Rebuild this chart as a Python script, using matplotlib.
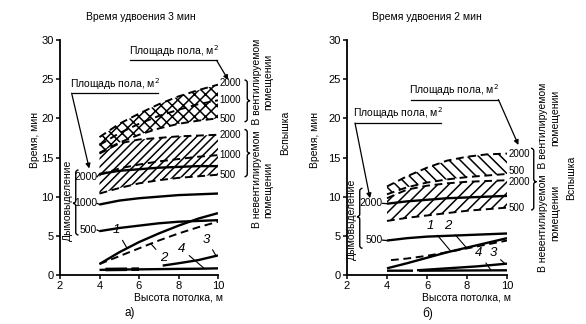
import numpy as np
import matplotlib
matplotlib.use("Agg")
import matplotlib.pyplot as plt
from matplotlib.path import Path
from matplotlib.patches import PathPatch

plt.rcParams['font.family'] = ['Liberation Sans', 'DejaVu Sans']
plt.rcParams['hatch.linewidth'] = 1.1

# ---------------- data ----------------
height = [4, 5, 6, 7, 8, 9, 10]
xticks = [2, 4, 6, 8, 10]
yticks = [0, 5, 10, 15, 20, 25, 30]

# panel a) doubling time 3 min
a_vent_2000 = [17.6, 19.3, 20.6, 21.8, 22.8, 23.6, 24.3]
a_vent_1000 = [16.6, 18.1, 19.3, 20.3, 21.1, 21.8, 22.3]
a_vent_500 = [15.6, 16.9, 17.9, 18.7, 19.3, 19.7, 20.0]
a_nvent_2000 = [15.5, 16.8, 17.3, 17.5, 17.7, 17.8, 17.9]
a_nvent_1000 = [12.8, 13.6, 14.1, 14.5, 14.8, 15.1, 15.3]
a_nvent_500 = [10.4, 11.1, 11.7, 12.1, 12.4, 12.6, 12.8]
a_smoke_2000 = [12.9, 13.3, 13.5, 13.7, 13.8, 13.9, 13.9]
a_smoke_1000 = [9.0, 9.5, 9.8, 10.0, 10.2, 10.3, 10.4]
a_smoke_500 = [5.6, 6.0, 6.3, 6.6, 6.8, 6.9, 7.0]
a_curve1 = [1.4, 2.9, 4.2, 5.3, 6.3, 7.2, 7.9]
a_curve2 = [1.4, 2.4, 3.4, 4.4, 5.3, 6.1, 6.8]
a_curve3_x = [7.2, 8, 9, 10]
a_curve3 = [1.2, 1.5, 1.9, 2.5]
a_curve4 = [0.65, 0.7, 0.72, 0.75, 0.78, 0.8, 0.85]
a_curve4b_x = [4.3, 6.0]
a_curve4b = [0.7, 0.75]

# panel b) doubling time 2 min
b_vent_2000 = [11.3, 12.6, 13.7, 14.6, 15.1, 15.4, 15.5]
b_vent_500 = [10.3, 11.2, 11.8, 12.2, 12.5, 12.7, 12.9]
b_nvent_2000 = [9.8, 10.9, 11.4, 11.7, 11.9, 12.0, 12.1]
b_nvent_500 = [6.9, 7.3, 7.6, 7.9, 8.2, 8.4, 8.6]
b_smoke_2000 = [9.1, 9.4, 9.6, 9.8, 9.9, 10.0, 10.1]
b_smoke_500 = [4.4, 4.7, 4.9, 5.0, 5.1, 5.2, 5.3]
b_curve1 = [0.85, 1.5, 2.2, 2.9, 3.5, 4.1, 4.7]
b_curve2_x = [4.2, 5, 6, 7, 8, 9, 10]
b_curve2 = [1.9, 2.1, 2.45, 2.9, 3.4, 3.9, 4.4]
b_curve3_x = [5.5, 7, 8.5, 10]
b_curve3 = [0.6, 0.85, 1.1, 1.45]
b_curve4_x = [4.0, 5.3, np.nan, 5.6, 10.0]
b_curve4 = [0.55, 0.55, np.nan, 0.55, 0.6]

area_label = "Площадь пола, м$^2$"

W, H = 586, 324
fig = plt.figure(figsize=(W / 100, H / 100), dpi=100)

def fx(px):
    return px / W

def fy(py):
    return 1 - py / H

def ftext(px, py, s, **kw):
    fig.text(fx(px), fy(py), s, **kw)

def brace(px, ytop, ybot, ymid, w, s):
    pts = [(px, ytop), (px + s * w / 2, ytop), (px + s * w / 2, ytop + w / 2),
           (px + s * w / 2, ymid - w / 2), (px + s * w / 2, ymid), (px + s * w, ymid),
           (px + s * w / 2, ymid), (px + s * w / 2, ymid + w / 2),
           (px + s * w / 2, ybot - w / 2), (px + s * w / 2, ybot), (px, ybot)]
    codes = [Path.MOVETO, Path.CURVE3, Path.CURVE3, Path.LINETO, Path.CURVE3, Path.CURVE3,
             Path.CURVE3, Path.CURVE3, Path.LINETO, Path.CURVE3, Path.CURVE3]
    verts = [(fx(a), fy(b)) for a, b in pts]
    fig.patches.append(PathPatch(Path(verts, codes), transform=fig.transFigure,
                                 fill=False, lw=1.0, color='black'))

DASH = (0, (4, 2.4))
SOL = dict(color='black', lw=1.7, solid_capstyle='butt')
DSH = dict(color='black', lw=1.4, linestyle=DASH)
FS = 7.5
FSR = 7.0

def setup(ax):
    ax.set_xlim(2, 10)
    ax.set_ylim(0, 30)
    ax.set_xticks(xticks)
    ax.set_yticks(yticks)
    for sp in ['top', 'right']:
        ax.spines[sp].set_visible(False)
    for sp in ['left', 'bottom']:
        ax.spines[sp].set_linewidth(1.3)
    ax.tick_params(direction='out', length=3, width=1.1, pad=1.5, labelsize=8)
    ax.patch.set_alpha(0)

def area_arrow(ax, tx, ty, x0, x1, uy, ax_, ay_, start_left):
    ax.text(tx, ty, area_label, fontsize=FS, ha='center', va='bottom')
    ax.plot([x0, x1], [uy, uy], color='black', lw=0.9, clip_on=False)
    sx = x0 if start_left else x1
    ax.annotate('', xy=(ax_, ay_), xytext=(sx, uy), annotation_clip=False,
                arrowprops=dict(arrowstyle='-|>', lw=0.9, color='black',
                                mutation_scale=7, shrinkA=0, shrinkB=0))

def num_label(ax, s, tx, ty, px_, py_):
    ax.annotate(s, xy=(px_, py_), xytext=(tx, ty), fontsize=9.5, style='italic',
                ha='center', va='center', annotation_clip=False,
                arrowprops=dict(arrowstyle='-', lw=0.8, color='black',
                                shrinkA=1, shrinkB=0))

# ---------------- panel a ----------------
axa = fig.add_axes([fx(60), fy(275), 158 / W, 235 / H])
setup(axa)
axa.fill_between(height, a_vent_500, a_vent_2000, facecolor='none', edgecolor='black',
                 hatch='xxx', linewidth=0)
axa.fill_between(height, a_nvent_500, a_nvent_2000, facecolor='none', edgecolor='black',
                 hatch='////', linewidth=0)
for d in (a_vent_2000, a_vent_1000, a_vent_500, a_nvent_2000, a_nvent_1000, a_nvent_500):
    axa.plot(height, d, **DSH)
for d in (a_smoke_2000, a_smoke_1000, a_smoke_500, a_curve1, a_curve4):
    axa.plot(height, d, **SOL)
axa.plot(height, a_curve2, **DSH)
axa.plot(a_curve3_x, a_curve3, **SOL)
axa.plot(a_curve4b_x, a_curve4b, color='black', lw=2.6, linestyle=(0, (6, 1.2)))

for lab, yl, d in (("2000", 12.55, a_smoke_2000), ("1000", 9.15, a_smoke_1000), ("500", 5.75, a_smoke_500)):
    axa.text(3.88, yl, lab, fontsize=FS, ha='right', va='center')
    axa.plot([3.88, 4.0], [yl, d[0]], color='black', lw=0.9)
for lab, yl in (("2000", 24.5), ("1000", 22.3), ("500", 19.9), ("2000", 17.9), ("1000", 15.3), ("500", 12.8)):
    axa.text(10.08, yl, lab, fontsize=FSR, ha='left', va='center', clip_on=False)

area_arrow(axa, 7.75, 27.6, 5.54, 9.93, 27.4, 10.52, 24.9, False)
area_arrow(axa, 4.8, 23.4, 2.59, 6.98, 23.2, 3.48, 13.6, True)

num_label(axa, "1", 4.87, 5.7, 5.4, 3.4)
num_label(axa, "2", 7.23, 2.2, 6.6, 4.0)
num_label(axa, "3", 9.43, 4.5, 9.9, 2.45)
num_label(axa, "4", 8.16, 3.3, 9.3, 0.85)

ftext(141, 17, "Время удвоения 3 мин", fontsize=FS, ha='center', va='center')
ftext(179, 298, "Высота потолка, м", fontsize=FS, ha='center', va='center')
ftext(35, 140, "Время, мин", fontsize=FS, ha='center', va='center', rotation=90)
ftext(130, 313, "а)", fontsize=8.5, ha='center', va='center')
ftext(68, 200, "Дымовыделение", fontsize=FS, ha='center', va='center', rotation=90)
ftext(257, 133, "В невентилируемом  В вентилируемом", fontsize=FS, ha='center', va='center', rotation=90)
ftext(268, 82, "помещении", fontsize=FS, ha='center', va='center', rotation=90)
ftext(268, 190, "помещении", fontsize=FS, ha='center', va='center', rotation=90)
ftext(285, 133, "Вспышка", fontsize=FS, ha='center', va='center', rotation=90)
brace(244.5, 80, 121.7, 100.7, 5.5, 1)
brace(244.5, 129.5, 176.7, 153.3, 5.5, 1)
brace(78.5, 170, 235, 203.3, 5.5, -1)

# ---------------- panel b ----------------
axb = fig.add_axes([fx(347), fy(275), 160 / W, 235 / H])
setup(axb)
axb.fill_between(height, b_vent_500, b_vent_2000, facecolor='none', edgecolor='black',
                 hatch='\\\\\\', linewidth=0)
axb.fill_between(height, b_nvent_500, b_nvent_2000, facecolor='none', edgecolor='black',
                 hatch='///', linewidth=0)
for d in (b_vent_2000, b_vent_500, b_nvent_2000, b_nvent_500):
    axb.plot(height, d, **DSH)
for d in (b_smoke_2000, b_smoke_500, b_curve1):
    axb.plot(height, d, **SOL)
axb.plot(b_curve2_x, b_curve2, **DSH)
axb.plot(b_curve3_x, b_curve3, **SOL)
axb.plot(b_curve4_x, b_curve4, **SOL)

for lab, yl, d in (("2000", 9.15, b_smoke_2000), ("500", 4.45, b_smoke_500)):
    axb.text(3.78, yl, lab, fontsize=FS, ha='right', va='center')
    axb.plot([3.78, 4.0], [yl, d[0]], color='black', lw=0.9)
for lab, yl in (("2000", 15.5), ("500", 13.25), ("2000", 11.9), ("500", 8.6)):
    axb.text(10.08, yl, lab, fontsize=FSR, ha='left', va='center', clip_on=False)

area_arrow(axb, 7.35, 22.6, 5.2, 9.57, 22.4, 10.57, 16.6, False)
area_arrow(axb, 4.55, 19.6, 2.4, 6.7, 19.4, 3.15, 9.8, True)

num_label(axb, "1", 6.15, 6.2, 7.2, 3.0)
num_label(axb, "2", 7.05, 6.2, 8.0, 3.4)
num_label(axb, "4", 8.6, 2.8, 9.2, 0.6)
num_label(axb, "3", 9.3, 2.8, 9.9, 1.45)

ftext(427, 17, "Время удвоения 2 мин", fontsize=FS, ha='center', va='center')
ftext(467, 298, "Высота потолка, м", fontsize=FS, ha='center', va='center')
ftext(315, 140, "Время, мин", fontsize=FS, ha='center', va='center', rotation=90)
ftext(428, 314, "б)", fontsize=8.5, ha='center', va='center')
ftext(352, 219, "Дымовыделение", fontsize=FS, ha='center', va='center', rotation=90)
ftext(543, 177, "В невентилируемом  В вентилируемом", fontsize=FS, ha='center', va='center', rotation=90)
ftext(555, 118, "помещении", fontsize=FS, ha='center', va='center', rotation=90)
ftext(555, 213, "помещении", fontsize=FS, ha='center', va='center', rotation=90)
ftext(571, 178, "Вспышка", fontsize=FS, ha='center', va='center', rotation=90)
brace(531, 148.3, 210, 181.7, 5.5, 1)
brace(362.5, 188.3, 248.3, 216.7, 5.5, -1)

fig.savefig("out.png", dpi=100, facecolor='white')
